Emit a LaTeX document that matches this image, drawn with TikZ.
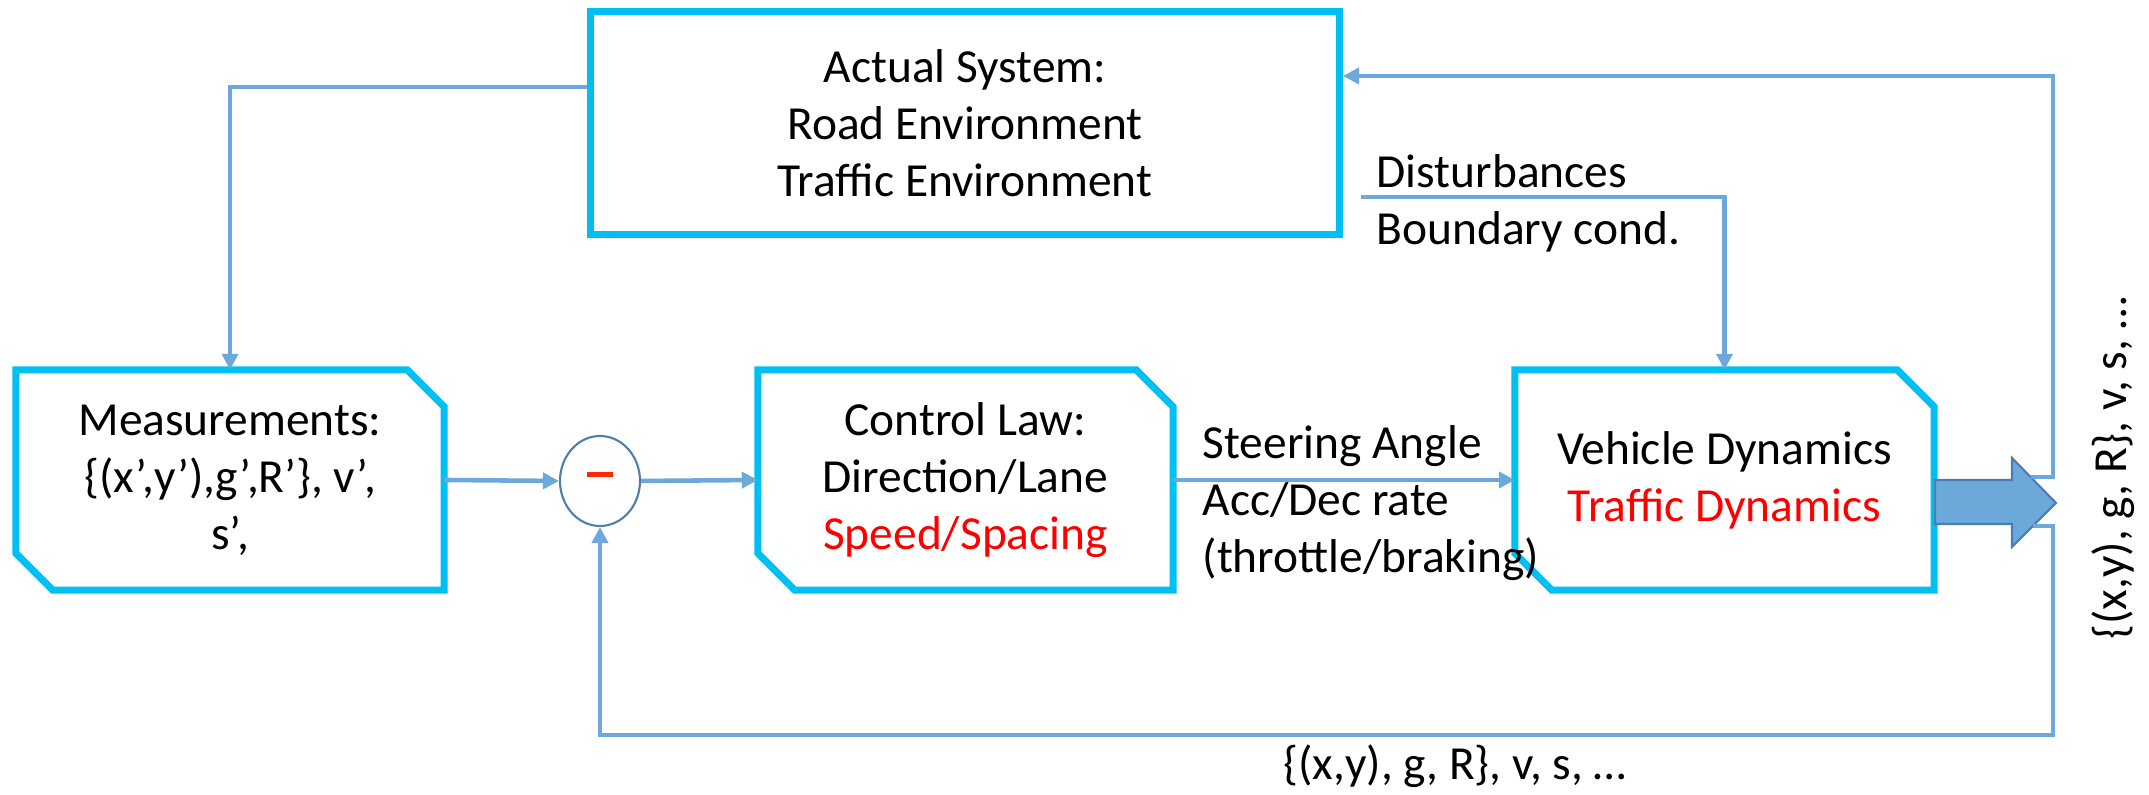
\documentclass[tikz,border=0pt]{standalone}
\usepackage{fontspec}
\setmainfont{Carlito}
\usetikzlibrary{arrows.meta,shapes.geometric}
\definecolor{boxcyan}{RGB}{0,191,243}
\definecolor{linkblue}{RGB}{108,168,218}
\definecolor{sumedge}{RGB}{80,126,168}
\definecolor{arrowedge}{RGB}{74,126,176}
\definecolor{hotred}{RGB}{255,0,0}
\definecolor{minusred}{RGB}{255,40,0}
\def\cutlen{3.7mm}
\def\cutbox(#1){\draw[boxline] (#1.north west) -- ([xshift=-\cutlen]#1.north east) -- ([yshift=-\cutlen]#1.north east) -- (#1.south east) -- ([xshift=\cutlen]#1.south west) -- ([yshift=\cutlen]#1.south west) -- cycle;}
\tikzset{
	boxline/.style={draw=boxcyan, line width=2pt, line join=miter},
	blk/.style={inner sep=0, align=center, minimum height=2.19cm},
	link/.style={draw=linkblue, line width=1.3pt, -{Triangle[length=1.6mm, width=1.6mm]}},
	bigarrow/.style={fill=linkblue, draw=arrowedge, line width=0.6pt, line join=miter}
}

\begin{document}
\begin{tikzpicture}[font=\fontsize{13.5}{16.2}\selectfont]
			%%%%% START %%%%%
			\useasboundingbox (0, 0) rectangle (21.49, 7.95);
			
			\node[draw=boxcyan, line width=2pt, minimum width=7.49cm, minimum height=2.23cm, align=center] (act) at (9.65, 6.72) {Actual System:\\Road Environment\\Traffic Environment};
			
			\node[blk, minimum width=4.27cm] (meas) at (2.30, 3.15) {Measurements:\\\{(x’,y’),g’,R’\}, v’,\\s’,};
			\cutbox(meas)
			
			\node[blk, minimum width=4.14cm] (ctrl) at (9.655, 3.15) {Control Law:\\Direction/Lane\\\textcolor{hotred}{Speed/Spacing}};
			\cutbox(ctrl)
			
			\node[blk, minimum width=4.18cm] (veh) at (17.245, 3.15) {Vehicle Dynamics\\\textcolor{hotred}{Traffic Dynamics}};
			\cutbox(veh)
			
			\node[ellipse, draw=sumedge, line width=0.6pt, minimum width=0.8cm, minimum height=0.9cm, inner sep=0] (sum) at (6.00, 3.14) {\textcolor{minusred}{\rule[0.6ex]{0.26cm}{0.05cm}}};
			
			% output arrow
			\draw[bigarrow] (19.35, 3.15) -- (20.12, 3.15) -- (20.12, 3.37) -- (20.56, 2.92) -- (20.12, 2.48) -- (20.12, 2.71) -- (19.35, 2.71) -- cycle;
			\coordinate (fbup) at (20.31, 3.18);
			\coordinate (fbdn) at (20.33, 2.69);
			\coordinate (rtop) at (20.53, 7.19);
			\coordinate (rbot) at (20.53, 0.60);
			\coordinate (dist) at (13.61, 5.98);
			
			\draw[link] ([yshift=3.6mm]act.west) -| (meas.north);
			\draw[link] (meas.east) -- (sum.west);
			\draw[link] (sum.east) -- (ctrl.west);
			\draw[link] (ctrl.east) -- (veh.west);
			\draw[link] (dist) -| (veh.north);
			\draw[link] (fbup) -| (rtop) -- (act.east |- rtop);
			\draw[link] (fbdn) -| (rbot) -| (sum.south);
			
			\node[anchor=base west, inner sep=0] (distlbl) at (13.76, 6.07) {Disturbances};
			\node[anchor=base west, inner sep=0] (bndlbl) at (13.76, 5.50) {Boundary cond.};
			\node[anchor=west, inner sep=0, align=left] (ctrllbl) at (12.02, 2.92) {Steering Angle\\Acc/Dec rate\\(throttle/braking)};
			
			\node[rotate=90, inner sep=0] (outlbl) at (21.13, 3.27) {\{(x,y), g, R\}, v, s, …};
			\node[anchor=base, inner sep=0] (fblbl) at (14.55, 0.15) {\{(x,y), g, R\}, v, s, …};
			%%%%% END %%%%%
\end{tikzpicture}
\end{document}
